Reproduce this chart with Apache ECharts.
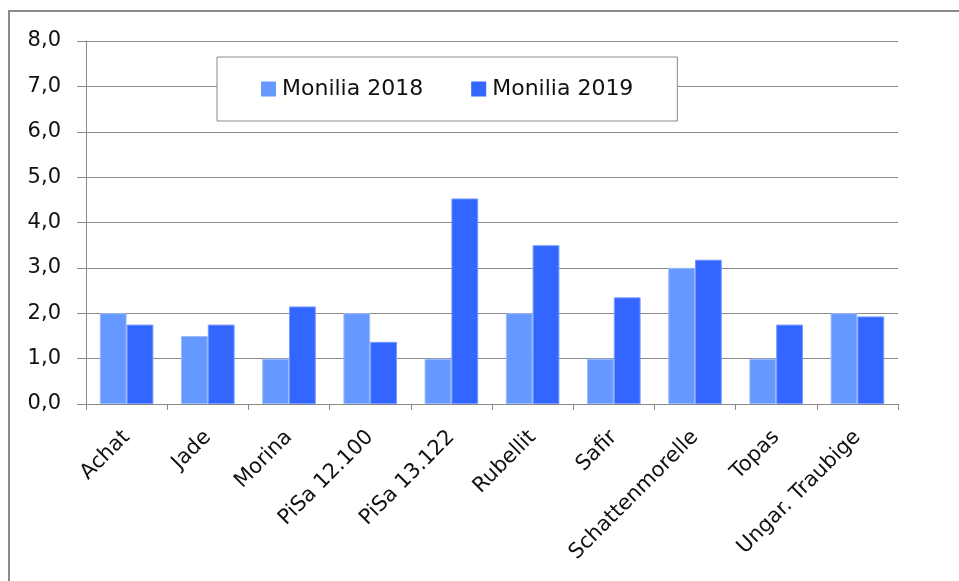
<!DOCTYPE html>
<html>
<head>
<meta charset="utf-8">
<script src="https://cdn.jsdelivr.net/npm/echarts@6/dist/echarts.min.js"></script>
<style>
html,body{margin:0;padding:0;background:#fff;}
#chart{width:959px;height:581px;}
</style>
</head>
<body>
<div id="chart"></div>
<script>
const categories = ['Achat','Jade','Morina','PiSa 12.100','PiSa 13.122','Rubellit','Safir','Schattenmorelle','Topas','Ungar. Traubige'];
const monilia2018 = [2.0,1.5,1.0,2.0,1.0,2.0,1.0,3.0,1.0,2.0];
const monilia2019 = [1.75,1.75,2.15,1.37,4.53,3.5,2.35,3.18,1.75,1.93];
const seriesNames = ['Monilia 2018','Monilia 2019'];

const FONT = '"DejaVu Sans", Verdana, sans-serif';
const chart = echarts.init(document.getElementById('chart'), null, {renderer:'canvas'});
chart.setOption({
  animation:false,
  backgroundColor:'#fff',
  graphic:[{
    type:'rect', z:-10, silent:true,
    shape:{x:9,y:11,width:1000,height:700},
    style:{fill:'#fff',stroke:'#8a8a8a',lineWidth:2}
  }],
  grid:{left:86,right:61,top:41,bottom:177,containLabel:false},
  legend:{
    data:seriesNames,
    left:217, top:57,
    padding:[20,44,20,44],
    itemWidth:15, itemHeight:15, itemGap:48,
    icon:'rect',
    itemStyle:{borderWidth:0},
    backgroundColor:'#fff',
    borderColor:'#8a8a8a', borderWidth:1,
    textStyle:{fontFamily:FONT,fontSize:22,color:'#111',lineHeight:24,padding:[0,0,0,1]}
  },
  xAxis:{
    type:'category',
    data:categories,
    axisLine:{lineStyle:{color:'#8a8a8a',width:1}},
    axisTick:{show:true,length:6,lineStyle:{color:'#8a8a8a'}},
    axisLabel:{rotate:45,margin:30,fontFamily:FONT,fontSize:21,color:'#111',interval:0}
  },
  yAxis:{
    type:'value',
    min:0,max:8,interval:1,
    axisLine:{show:true,lineStyle:{color:'#8a8a8a',width:1}},
    axisTick:{show:true,length:9,lineStyle:{color:'#8a8a8a'}},
    splitLine:{lineStyle:{color:'#8a8a8a',width:1}},
    axisLabel:{margin:25,fontFamily:FONT,fontSize:21,color:'#111',
      formatter:v=>v.toFixed(1).replace('.',',')}
  },
  series:[
    {name:seriesNames[0],type:'bar',data:monilia2018,barGap:'0%',barCategoryGap:'34%',
     itemStyle:{color:'#6699FF',borderColor:'#99BBFF',borderWidth:1}},
    {name:seriesNames[1],type:'bar',data:monilia2019,barGap:'0%',barCategoryGap:'34%',
     itemStyle:{color:'#3366FF',borderColor:'#7799FF',borderWidth:1}}
  ]
});
</script>
</body>
</html>
